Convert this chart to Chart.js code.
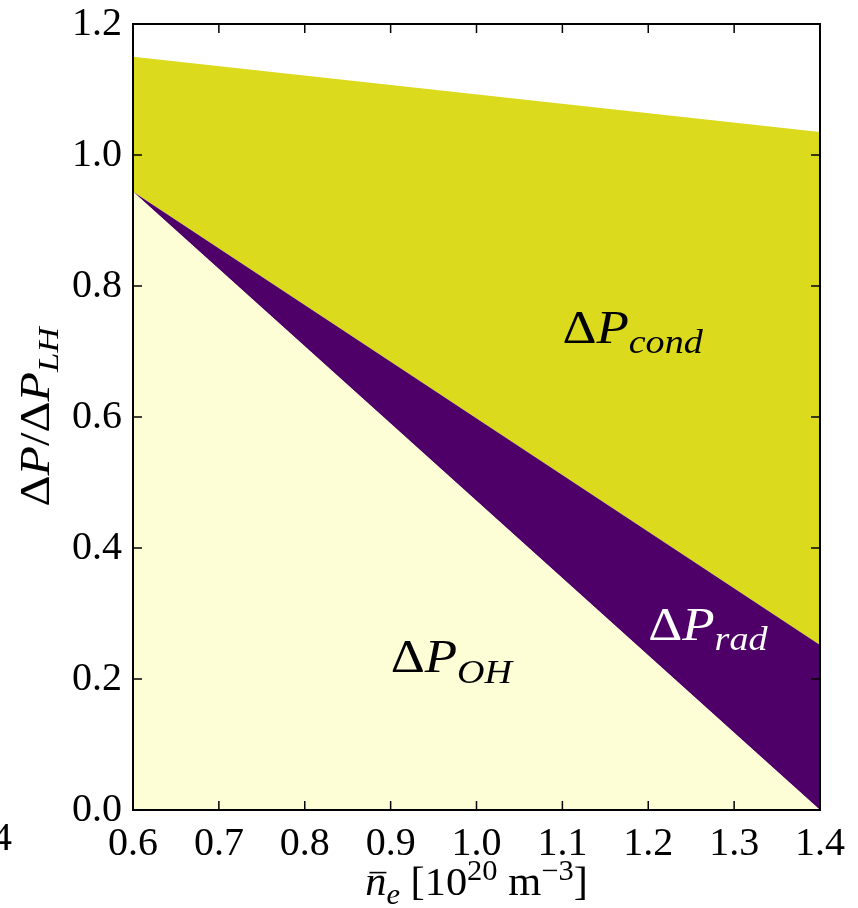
<!DOCTYPE html>
<html lang="en">
<head>
  <meta charset="UTF-8">
  <title>Power balance vs density</title>
  <script src="https://cdn.jsdelivr.net/npm/chart.js"></script>
  <style>
    body { margin: 0; background: #ffffff; }
    #wrap { width: 858px; height: 908px; }
  </style>
</head>
<body>
  <div id="wrap"><canvas id="powerChart" width="858" height="908"></canvas></div>

  <script>
    // line-averaged density [10^20 m^-3]
    const density = [0.6, 1.4];
    // power fractions of the L-H threshold, stacked bottom to top
    const ohFrac = [0.944, 0.0];
    const radFrac = [0.0, 0.252];
    const condFrac = [0.206, 0.783];

    const xTicks = [0.6, 0.7, 0.8, 0.9, 1.0, 1.1, 1.2, 1.3, 1.4];
    const yTicks = [0.0, 0.2, 0.4, 0.6, 0.8, 1.0, 1.2];

    const serif = "'Liberation Serif', 'Times New Roman', serif";

    const toPoints = vals => vals.map((v, i) => ({ x: density[i], y: v }));

    // draws a little math string made of roman / italic / sub / sup pieces,
    // stretched sideways a bit so it reads like TeX lettering
    function drawMath(ctx, parts, x, y, size, align, stretch) {
      const sx = stretch || 1;
      const pieces = parts.map(p => {
        const small = p.sub || p.sup;
        const fs = small ? size * 0.72 : size;
        const font = (p.it ? 'italic ' : '') + fs + 'px ' + serif;
        ctx.font = font;
        return { ...p, font, w: ctx.measureText(p.t).width + (p.gap || 0) };
      });
      const total = pieces.reduce((s, p) => s + p.w, 0);
      ctx.save();
      ctx.translate(x, y);
      ctx.scale(sx, 1);
      let cx = align === 'center' ? -total / 2 : 0;
      ctx.textAlign = 'left';
      ctx.textBaseline = 'alphabetic';
      pieces.forEach(p => {
        ctx.font = p.font;
        let dy = 0;
        if (p.sub) dy = size * 0.22;
        if (p.sup) dy = -size * 0.38;
        ctx.fillText(p.t, cx, dy);
        if (p.bar) {
          const w = ctx.measureText(p.t).width;
          ctx.lineWidth = 1.6;
          ctx.beginPath();
          ctx.moveTo(cx + w * 0.2, -size * 0.56);
          ctx.lineTo(cx + w * 1.0, -size * 0.56);
          ctx.stroke();
        }
        cx += p.w;
      });
      ctx.restore();
    }

    const regionLabels = [
      { x: 1.1, y: 0.713, color: '#000000',
        parts: [{ t: 'Δ' }, { t: 'P', it: true }, { t: 'cond', it: true, sub: true }] },
      { x: 1.2, y: 0.26, color: '#ffffff',
        parts: [{ t: 'Δ' }, { t: 'P', it: true }, { t: 'rad', it: true, sub: true }] },
      { x: 0.9, y: 0.21, color: '#000000',
        parts: [{ t: 'Δ' }, { t: 'P', it: true }, { t: 'OH', it: true, sub: true }] }
    ];

    const framePlugin = {
      id: 'frame',
      afterDatasetsDraw(chart) {
        const { ctx, chartArea: a, scales } = chart;
        ctx.save();
        ctx.strokeStyle = '#000000';

        // inward ticks on all four sides
        ctx.lineWidth = 1.5;
        const len = 9;
        ctx.beginPath();
        xTicks.forEach(v => {
          const px = scales.x.getPixelForValue(v);
          ctx.moveTo(px, a.bottom); ctx.lineTo(px, a.bottom - len);
          ctx.moveTo(px, a.top); ctx.lineTo(px, a.top + len);
        });
        yTicks.forEach(v => {
          const py = scales.y.getPixelForValue(v);
          ctx.moveTo(a.left, py); ctx.lineTo(a.left + len, py);
          ctx.moveTo(a.right, py); ctx.lineTo(a.right - len, py);
        });
        ctx.stroke();

        ctx.lineWidth = 2;
        ctx.strokeRect(a.left, a.top, a.right - a.left, a.bottom - a.top);

        // region labels
        regionLabels.forEach(l => {
          ctx.fillStyle = l.color;
          ctx.strokeStyle = l.color;
          drawMath(ctx, l.parts, scales.x.getPixelForValue(l.x), scales.y.getPixelForValue(l.y), 46, 'left', 1.15);
        });

        // axis titles
        ctx.fillStyle = '#000000';
        ctx.strokeStyle = '#000000';
        drawMath(ctx, [
          { t: 'n', it: true, bar: true }, { t: 'e', it: true, sub: true, gap: 10 },
          { t: '[10' }, { t: '20', sup: true }, { t: ' m' }, { t: '−3', sup: true }, { t: ']' }
        ], (a.left + a.right) / 2, 895, 40, 'center', 1.06);

        ctx.save();
        ctx.translate(49, (a.top + a.bottom) / 2);
        ctx.rotate(-Math.PI / 2);
        drawMath(ctx, [
          { t: 'Δ' }, { t: 'P', it: true }, { t: '/' }, { t: 'Δ' }, { t: 'P', it: true },
          { t: 'LH', it: true, sub: true }
        ], 0, 0, 42, 'center', 1.15);
        ctx.restore();

        // clipped label from a neighbouring panel
        ctx.font = '40px ' + serif;
        ctx.textAlign = 'right';
        ctx.textBaseline = 'alphabetic';
        ctx.fillText('4', 12, 850);

        ctx.restore();
      }
    };

    new Chart(document.getElementById('powerChart'), {
      type: 'line',
      data: {
        datasets: [
          { label: 'OH', data: toPoints(ohFrac), backgroundColor: '#fdfdd6', fill: 'origin' },
          { label: 'rad', data: toPoints(radFrac), backgroundColor: '#4f0068', fill: '-1' },
          { label: 'cond', data: toPoints(condFrac), backgroundColor: '#dbda1c', fill: '-1' }
        ]
      },
      options: {
        responsive: false,
        animation: false,
        layout: { padding: { top: 24, right: 38, left: 0, bottom: 0 } },
        elements: {
          line: { borderWidth: 0, tension: 0 },
          point: { radius: 0 }
        },
        plugins: {
          legend: { display: false },
          tooltip: { enabled: false }
        },
        scales: {
          x: {
            type: 'linear',
            min: 0.6,
            max: 1.4,
            afterBuildTicks: s => { s.ticks = xTicks.map(v => ({ value: v })); },
            afterFit: s => { s.height = 98; s.paddingLeft = 0; s.paddingRight = 0; },
            grid: { display: false, drawTicks: false },
            border: { display: false },
            ticks: {
              color: '#000000',
              padding: 10,
              maxRotation: 0,
              font: { family: serif, size: 40 },
              callback: v => v.toFixed(1)
            }
          },
          y: {
            stacked: true,
            min: 0,
            max: 1.2,
            afterBuildTicks: s => { s.ticks = yTicks.map(v => ({ value: v })); },
            afterFit: s => { s.width = 133; s.paddingTop = 0; s.paddingBottom = 0; },
            grid: { display: false, drawTicks: false },
            border: { display: false },
            ticks: {
              color: '#000000',
              padding: 11,
              font: { family: serif, size: 40 },
              callback: v => v.toFixed(1)
            }
          }
        }
      },
      plugins: [framePlugin]
    });
  </script>
</body>
</html>
